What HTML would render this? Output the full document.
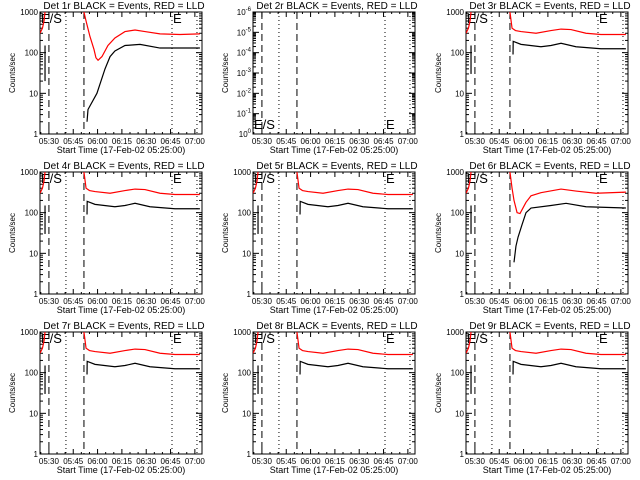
<!DOCTYPE html>
<html><head><meta charset="utf-8"><style>
html,body{margin:0;padding:0;background:#fff;}
svg{display:block;font-family:"Liberation Sans",sans-serif;}
</style></head><body>
<svg id="c" width="640" height="480" viewBox="0 0 640 480"></svg>
<script>
// time in minutes after 05:25
const xTickLabels = ["05:30","05:45","06:00","06:15","06:30","06:45","07:00"];
const xTickMinutes = [5,20,35,50,65,80,95];
const yTickValues = [1,10,100,1000];
const yTickLabels = ["1","10","100","1000"];
const panelTitles = ["Det 1r","Det 2r","Det 3r","Det 4r","Det 5r","Det 6r","Det 7r","Det 8r","Det 9r"];
const dashedMarks = [5,26.6];
const dottedMarks = [15.5,80.9,96.3];
const redPreT = [-0.5,1,2,2.6];
const redPreV = [300,400,600,1000];
const blackSpikeT = [2.6];
const blackSpikeV = [30,150];
const redGenT = [26.6,27.9,30,33.4,42.7,51.9,58.1,64.2,73.5,82.7,98.1];
const redGenV = [1000,400,350,330,300,350,380,370,300,280,280];
const blackGenT = [28.5,28.6,33.4,45.7,51.9,58.1,67.3,82.7,98.1];
const blackGenV = [90,190,160,140,150,170,140,125,125];
const red1T = [26.6,27.9,30.3,32.8,34,35.3,37.7,41.4,45.7,51.9,58.1,64.2,73.5,85.8,98.1];
const red1V = [1000,600,250,120,75,65,80,150,230,330,360,330,290,280,290];
const black1T = [28.5,29.1,34.6,39.6,42.7,45.7,51.9,61.2,73.5,98.1];
const black1V = [2,4,10,40,80,110,150,160,130,130];
const red6T = [26.6,27.9,29.1,31,32.8,34.6,36.5,39.6,45.7,58.1,67.3,79.6,98.1];
const red6V = [1000,400,200,100,95,130,180,260,310,380,340,300,320];
const black6T = [29.1,30.3,31.6,34,36.5,39.6,51.9,61.2,73.5,98.1];
const black6V = [6,15,25,50,100,130,150,170,140,130];

const svg = document.getElementById('c');
const NS = 'http://www.w3.org/2000/svg';
function mk(tag, attrs, parent){const e=document.createElementNS(NS,tag);for(const k in attrs)e.setAttribute(k,attrs[k]);(parent||svg).appendChild(e);return e;}
const PL=40, PR=202, PT=12, PB=134, XMIN=-0.5, XMAX=99.4;

for(let p=0;p<9;p++){
  const ox=(p%3)*213, oy=Math.floor(p/3)*160;
  const g=mk('g',{transform:`translate(${ox},${oy})`});
  
  
  const is2 = p===1;
  const ymin = is2?1e-6:1, ymax = is2?1:1000;
  const X = t => PL+(t-XMIN)/(XMAX-XMIN)*(PR-PL);
  const Y = v => PB-(Math.log10(v)-Math.log10(ymin))/(Math.log10(ymax)-Math.log10(ymin))*(PB-PT);
  const clipId='clip'+p;
  const cp=mk('clipPath',{id:clipId},g); mk('rect',{x:PL,y:PT,width:PR-PL,height:PB-PT},cp);
  const tt=mk('text',{x:(PL+PR)/2+3,y:PT-3,'text-anchor':'middle','font-size':'10'},g);
  tt.textContent=panelTitles[p]+' BLACK = Events, RED = LLD';
  
  
  const box=mk('rect',{x:PL,y:PT,width:PR-PL,height:PB-PT,fill:'none',stroke:'#000','stroke-width':'1'},g);
  
  
  for(let m=0;m<=95;m+=5){
    const x=X(m), major=(m%15===5);
    const L=major?5:2;
    mk('line',{x1:x,y1:PB,x2:x,y2:PB-L,stroke:'#000'},g);
    mk('line',{x1:x,y1:PT,x2:x,y2:PT+L,stroke:'#000'},g);
  }
  xTickLabels.forEach((lab,i)=>{
    const t=mk('text',{x:X(xTickMinutes[i]),y:PB+10,'text-anchor':'middle','font-size':'8'},g);
    t.textContent=lab;
    
    
  });
  const xt=mk('text',{x:(PL+PR)/2,y:PB+19,'text-anchor':'middle','font-size':'9'},g);
  xt.textContent='Start Time (17-Feb-02 05:25:00)';
  
  
  const yt=mk('text',{x:15,y:(PT+PB)/2,'text-anchor':'middle','font-size':'8',transform:`rotate(-90 15 ${(PT+PB)/2})`},g);
  yt.textContent='Counts/sec';
  
  
  const d0=Math.round(Math.log10(ymin)), d1=Math.round(Math.log10(ymax));
  for(let d=d0;d<=d1;d++){
    const y=Y(Math.pow(10,d));
    mk('line',{x1:PL,y1:y,x2:PL+6,y2:y,stroke:'#000'},g);
    mk('line',{x1:PR,y1:y,x2:PR-6,y2:y,stroke:'#000'},g);
    if(d<d1){for(let k=2;k<10;k++){const yy=Y(k*Math.pow(10,d));
      mk('line',{x1:PL,y1:yy,x2:PL+3,y2:yy,stroke:'#000'},g);
      mk('line',{x1:PR,y1:yy,x2:PR-3,y2:yy,stroke:'#000'},g);}}
    const lt=mk('text',{x:PL-2,y:y+3,'text-anchor':'end','font-size':'8'},g);
    if(is2){lt.textContent='10';const s=mk('tspan',{dy:'-4','font-size':'6'},lt);s.textContent=String(d===d0?0:-(d-d0));}
    else lt.textContent=yTickLabels[d];
    
    
  }
  dashedMarks.forEach(t=>mk('line',{x1:X(t),y1:PT,x2:X(t),y2:PB,stroke:'#000','stroke-dasharray':'7,4'},g));
  dottedMarks.forEach(t=>mk('line',{x1:X(t),y1:PT,x2:X(t),y2:PB,stroke:'#000','stroke-dasharray':'1,3'},g));
  const es=mk('text',{x:PL+1,y:is2?PB-5:PT+11,'font-size':'13'},g);es.textContent='E/S';
  
  
  const ee=mk('text',{x:X(80.9)+1,y:is2?PB-5:PT+11,'font-size':'13'},g);ee.textContent='E';
  
  
  if(is2) continue;
  const dg=mk('g',{'clip-path':`url(#${clipId})`},g);
  const line=(ts,vs,col,name)=>{const pl=mk('polyline',{points:ts.map((t,i)=>X(t)+','+Y(vs[i])).join(' '),fill:'none',stroke:col,'stroke-width':'1.2'},dg);
    
    };
  line(redPreT,redPreV,'#f00','lld-series-pre');
  const sv = p===0?[20,150]:blackSpikeV;
  line([blackSpikeT[0],blackSpikeT[0]],sv,'#000','events-spike');
  if(p===0){line(red1T,red1V,'#f00','lld-series');line(black1T,black1V,'#000','events-series');}
  else if(p===5){line(red6T,red6V,'#f00','lld-series');line(black6T,black6V,'#000','events-series');}
  else {line(redGenT,redGenV,'#f00','lld-series');line(blackGenT,blackGenV,'#000','events-series');}
}
</script>
</body></html>
